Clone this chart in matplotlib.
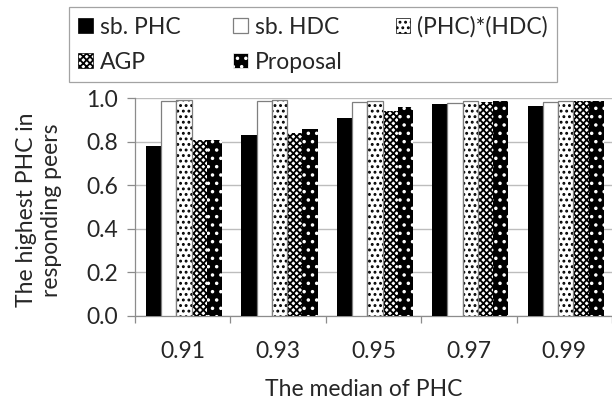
import matplotlib
matplotlib.use("Agg")
import matplotlib.pyplot as plt
import numpy as np
from matplotlib.patches import Patch

categories = ["0.91", "0.93", "0.95", "0.97", "0.99"]
sb_phc = [0.78, 0.83, 0.907, 0.972, 0.964]
sb_hdc = [0.987, 0.987, 0.981, 0.980, 0.983]
phc_hdc = [0.991, 0.990, 0.989, 0.989, 0.989]
agp = [0.806, 0.838, 0.940, 0.984, 0.989]
proposal = [0.807, 0.860, 0.958, 0.989, 0.989]

plt.rcParams["font.family"] = ["Lato", "DejaVu Sans"]
plt.rcParams["hatch.linewidth"] = 1.3

TEXT = "#262626"
AXIS = "#8c8c8c"
GRID = "#bdbdbd"
FS = 16.5

fig = plt.figure(figsize=(6.12, 4.07), dpi=100)
ax = fig.add_axes([135 / 612, 1 - 315.5 / 407, 1 - 135 / 612, (315.5 - 98.3) / 407])

x = np.arange(len(categories))
w = 0.16
offsets = (np.arange(5) - 2) * w + 0.015

ax.bar(x + offsets[0], sb_phc, w, color="black", linewidth=0, zorder=3)
ax.bar(x + offsets[1], sb_hdc, w, color="white", edgecolor="#7f7f7f", linewidth=0.9, zorder=3)
ax.bar(x + offsets[2], phc_hdc, w, color="white", edgecolor="black", hatch="...", linewidth=0, zorder=3)
ax.bar(x + offsets[2], phc_hdc, w, fill=False, edgecolor="#7f7f7f", linewidth=0.9, zorder=4)
ax.bar(x + offsets[3], agp, w, color="white", edgecolor="black", hatch="xxxxx", linewidth=0, zorder=3)
ax.bar(x + offsets[4], proposal, w, color="black", edgecolor="white", hatch="..", linewidth=0, zorder=3)

ax.set_xlim(-0.5, len(categories) - 0.5)
ax.set_ylim(0, 1.0)
ax.set_yticks(np.arange(0, 1.01, 0.2))
ax.set_yticklabels([f"{v:.1f}" for v in np.arange(0, 1.01, 0.2)])
ax.set_xticks(np.arange(-0.5, len(categories), 1.0))
ax.set_xticklabels([])
ax.set_xticks(x, minor=True)
ax.set_xticklabels(categories, minor=True)
ax.tick_params(axis="x", which="major", length=5, width=0.9, color=AXIS, direction="out")
ax.tick_params(axis="x", which="minor", length=0, pad=18, labelsize=FS, labelcolor=TEXT)
ax.tick_params(axis="y", length=6, width=0.9, color=AXIS, pad=6, labelsize=FS, labelcolor=TEXT)

ax.grid(axis="y", color=GRID, linewidth=1.0, zorder=0)
ax.set_axisbelow(True)
for side in ["top", "right"]:
    ax.spines[side].set_visible(False)
for side in ["left", "bottom"]:
    ax.spines[side].set_color(AXIS)
    ax.spines[side].set_linewidth(0.9)

fig.text(364 / 612, 1 - 389 / 407, "The median of PHC", ha="center", va="center",
         fontsize=FS, color=TEXT)
fig.text(39 / 612, 1 - 210 / 407, "The highest PHC in\nresponding peers", ha="center",
         va="center", rotation=90, fontsize=FS, color=TEXT, linespacing=1.25)

handles = [
    Patch(facecolor="black", edgecolor="black", linewidth=0.5),
    Patch(facecolor="white", edgecolor="black", hatch="xxxxx", linewidth=0.5),
    Patch(facecolor="white", edgecolor="#7f7f7f", linewidth=0.9),
    Patch(facecolor="black", edgecolor="white", hatch="..", linewidth=0.5),
    Patch(facecolor="white", edgecolor="black", hatch="...", linewidth=0.5),
]
labels = ["sb. PHC", "AGP", "sb. HDC", "Proposal", "(PHC)*(HDC)"]
leg = fig.legend(handles, labels, loc="upper left", bbox_to_anchor=(69 / 612, 1 - 7 / 407),
                 ncol=3, fontsize=FS, frameon=True, fancybox=False, handlelength=0.65,
                 handleheight=0.65, handletextpad=0.3, columnspacing=2.3, labelspacing=0.62,
                 borderpad=0.4, borderaxespad=0)
leg.get_frame().set_edgecolor(AXIS)
leg.get_frame().set_linewidth(0.9)
for t in leg.get_texts():
    t.set_color(TEXT)

fig.savefig("out.png", dpi=100)
